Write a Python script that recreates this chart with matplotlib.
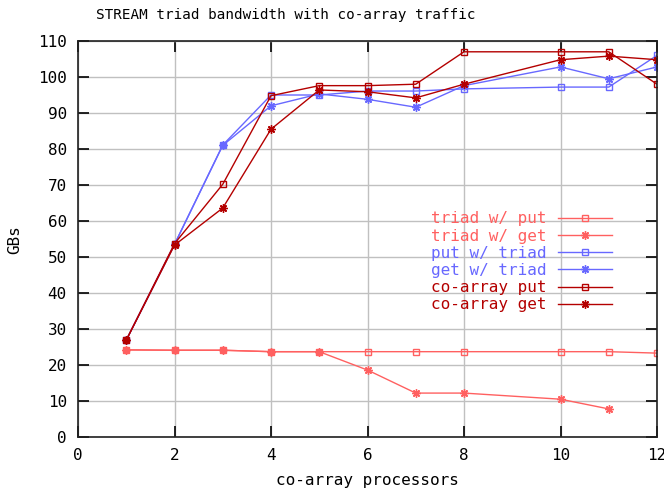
import matplotlib
matplotlib.use('Agg')
import matplotlib.pyplot as plt

plt.rcParams['font.family'] = ['DejaVu Sans Mono']
plt.rcParams['font.size'] = 11.5

procs = [1, 2, 3, 4, 5, 6, 7, 8, 10, 11, 12]
procs_get = [1, 2, 3, 4, 5, 6, 7, 8, 10, 11]

triad_put = [24.2, 24.1, 24.1, 23.7, 23.7, 23.7, 23.7, 23.7, 23.7, 23.7, 23.3]
triad_get = [24.2, 24.1, 24.1, 23.7, 23.7, 18.6, 12.2, 12.2, 10.5, 7.8]
put_triad = [26.9, 53.5, 81.1, 95.0, 95.0, 96.1, 96.1, 96.7, 97.2, 97.2, 106.0]
get_triad = [26.9, 53.5, 81.0, 92.0, 95.3, 93.8, 91.6, 97.6, 102.8, 99.5, 102.8]
coarray_put = [26.9, 53.7, 70.2, 94.8, 97.6, 97.6, 98.0, 107.0, 107.0, 107.0, 98.0]
coarray_get = [26.9, 53.3, 63.6, 85.5, 96.4, 95.9, 94.2, 98.0, 104.8, 105.8, 104.8]

light_red = '#ff6060'
blue = '#6868ff'
dark_red = '#b40000'
star = (8, 2, 0)

fig = plt.figure(figsize=(6.64, 4.88), dpi=100)
ax = fig.add_axes([78 / 664, 51 / 488, 579 / 664, 396 / 488])

sq = dict(lw=1.0, ms=5, mew=1.0, marker='s', mfc='none')
st = dict(lw=1.0, ms=6, mew=1.0, marker=star)
ax.plot(procs, triad_put, color=light_red, label='triad w/ put', **sq)
ax.plot(procs_get, triad_get, color=light_red, label='triad w/ get', **st)
ax.plot(procs, put_triad, color=blue, label='put w/ triad', **sq)
ax.plot(procs, get_triad, color=blue, label='get w/ triad', **st)
ax.plot(procs, coarray_put, color=dark_red, label='co-array put', **sq)
ax.plot(procs, coarray_get, color=dark_red, label='co-array get', **st)

ax.set_xlim(0, 12)
ax.set_ylim(0, 110)
ax.set_xticks(range(0, 13, 2))
ax.set_yticks(range(0, 111, 10))
ax.grid(True, color='#c0c0c0', lw=1.0)
ax.set_axisbelow(True)
ax.tick_params(direction='in', length=8, width=1.2, top=True, right=True, pad=8)
for s in ax.spines.values():
    s.set_linewidth(1.2)
    s.set_color('#202020')

fig.text(286 / 664, 1 - 15 / 488, 'STREAM triad bandwidth with co-array traffic',
         ha='center', va='center', fontsize=10.3)
ax.set_xlabel('co-array processors', labelpad=7)
fig.text(15 / 664, 1 - 240 / 488, 'GBs', rotation=90, ha='center', va='center')

leg = ax.legend(loc='upper right', bbox_to_anchor=(0.922, 0.57), frameon=False,
                markerfirst=False, handlelength=3.4, handletextpad=0.7,
                labelspacing=0.14, borderpad=0, borderaxespad=0)
for t, line in zip(leg.get_texts(), leg.get_lines()):
    t.set_color(line.get_color())

plt.savefig('out.png', dpi=100)
